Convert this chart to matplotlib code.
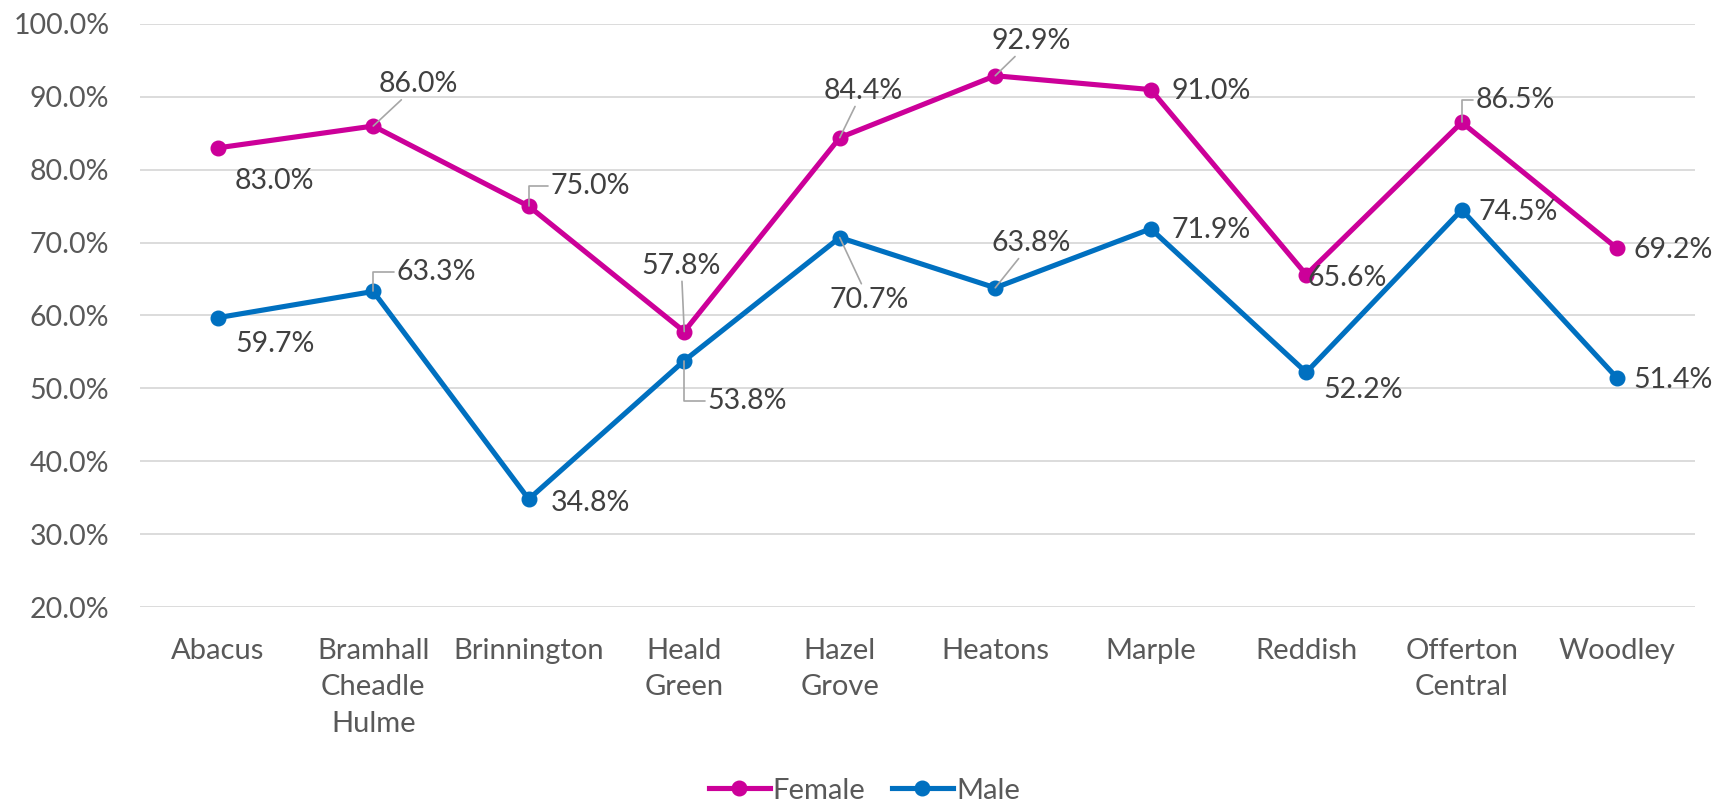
import matplotlib
matplotlib.use("Agg")
import matplotlib.pyplot as plt
from matplotlib.ticker import FuncFormatter

categories = ["Abacus", "Bramhall\nCheadle\nHulme", "Brinnington", "Heald\nGreen", "Hazel\nGrove",
              "Heatons", "Marple", "Reddish", "Offerton\nCentral", "Woodley"]
female = [83.0, 86.0, 75.0, 57.8, 84.4, 92.9, 91.0, 65.6, 86.5, 69.2]
male = [59.7, 63.3, 34.8, 53.8, 70.7, 63.8, 71.9, 52.2, 74.5, 51.4]

# label offsets in pixels (dx, dy) and leader style: None, 'line', 'hook'
female_off = [(57, -33, None), (45, 42, 'line'), (62, 20, 'hook'), (-3, 66, 'line'), (23, 47, 'line'),
              (36, 35, 'line'), (60, -1, None), (41, -3, None), (54, 22, 'hook'), (56, -2, None)]
male_off = [(57, -26, None), (63, 19, 'hook'), (62, -4, None), (63, -40, 'hook'), (29, -62, 'line'),
            (36, 45, 'line'), (60, -1, None), (57, -18, None), (56, -2, None), (56, -2, None)]

FONT = "Lato"
FS = 20.5
FSX = 21
TXT = "#404040"
TICK = "#595959"
C_F = "#CC0099"
C_M = "#0070C0"
LEAD = "#A6A6A6"

fig = plt.figure(figsize=(17.25, 8.01), dpi=100)
ax = fig.add_axes([140/1725, 1-607/801, (1695-140)/1725, (607-24)/801])

x = list(range(len(categories)))
ax.plot(x, female, color=C_F, lw=3.7, marker="o", ms=10.5, label="Female", zorder=3)
ax.plot(x, male, color=C_M, lw=3.7, marker="o", ms=10.5, label="Male", zorder=3)

ax.set_xlim(-0.5, len(categories) - 0.5)
ax.set_ylim(20, 100)
ax.set_yticks(range(20, 101, 10))
ax.yaxis.set_major_formatter(FuncFormatter(lambda v, p: f"{v:.1f}%"))
ax.set_xticks(x)
ax.set_xticklabels(categories, fontfamily=FONT, fontsize=FSX, color=TICK, linespacing=1.52)
for lab in ax.get_yticklabels():
    lab.set_fontfamily(FONT)
    lab.set_fontsize(FS)
    lab.set_color(TICK)
ax.tick_params(axis="y", length=0, pad=22)
ax.tick_params(axis="x", length=0, pad=22)
ax.grid(axis="y", color="#D9D9D9", lw=1.3)
ax.set_axisbelow(True)
for s in ax.spines.values():
    s.set_visible(False)


def label(vals, offs):
    for i, (v, (dx, dy, lead)) in enumerate(zip(vals, offs)):
        kw = dict(textcoords="offset pixels", ha="center", va="center",
                  fontfamily=FONT, fontsize=FS, color=TXT, zorder=4)
        if lead == 'line':
            kw["arrowprops"] = dict(arrowstyle="-", color=LEAD, lw=1.2, shrinkA=0, shrinkB=0)
        elif lead == 'hook':
            kw["arrowprops"] = dict(arrowstyle="-", color=LEAD, lw=1.2, shrinkA=0, shrinkB=0,
                                    relpos=(0, 0.5), connectionstyle="angle,angleA=0,angleB=90,rad=0")
        ax.annotate(f"{v:.1f}%", xy=(i, v), xytext=(dx, dy), **kw)


label(female, female_off)
label(male, male_off)

fig.legend(loc="center", bbox_to_anchor=(0.501, 0.013), ncol=2, frameon=False,
           prop={"family": FONT, "size": FSX}, labelcolor=TICK, handlelength=2.1,
           handletextpad=0.1, columnspacing=0.9)

fig.savefig("out.png", dpi=100)
